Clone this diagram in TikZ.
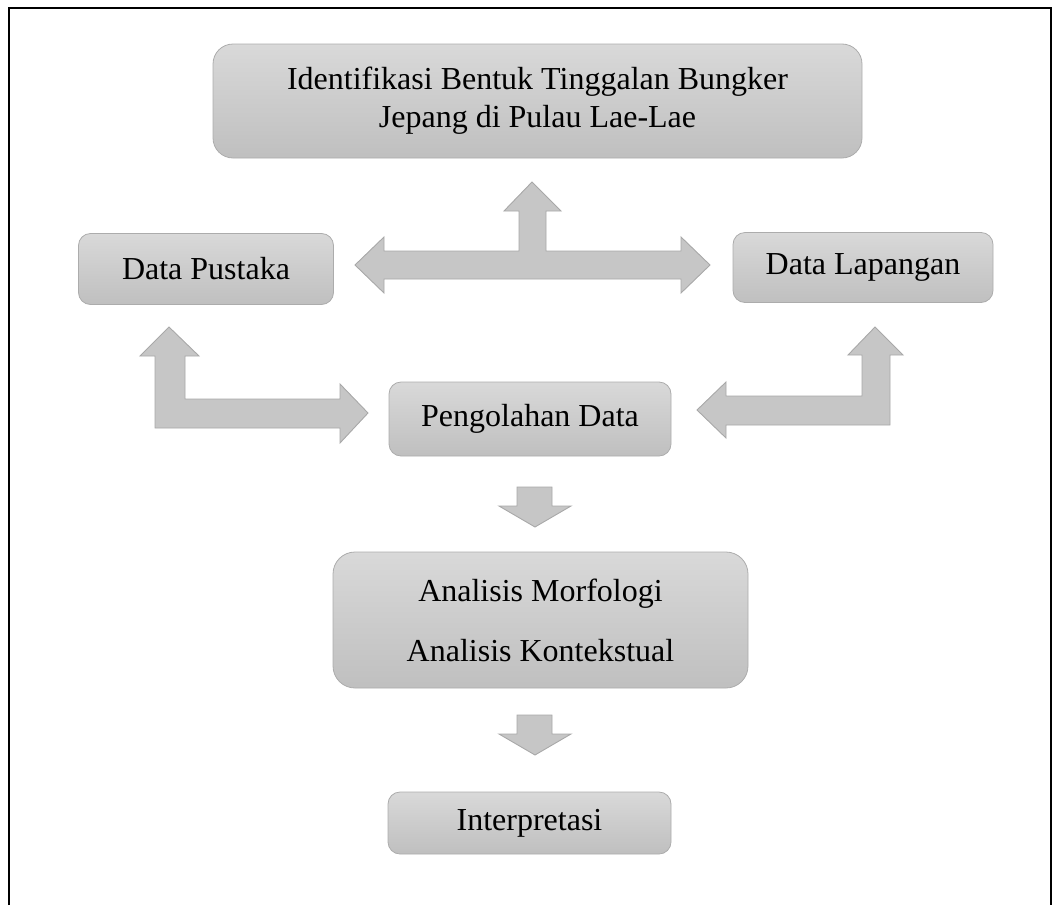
\documentclass[tikz,border=0pt]{standalone}
\usepackage{fontspec}
\setmainfont{Liberation Serif}
\tikzset{
  box/.style={draw=gray!65, line width=0.8pt, top color=gray!30, bottom color=gray!50,
    align=center, inner sep=0pt, font=\fontsize{32}{38}\selectfont},
  blockarrow/.style={fill=gray!45, draw=gray!68, line width=0.9pt, line join=miter}
}
\begin{document}
\begin{tikzpicture}[x=1pt,y=-1pt]
\useasboundingbox (0,0) rectangle (1054,905);
\draw[line width=2.6pt] (9,905) -- (9,8) -- (1051,8) -- (1051,905);
% boxes
\node[box, rounded corners=20pt, minimum width=649pt, minimum height=114pt] (ident) at (537.5,101) {Identifikasi Bentuk Tinggalan Bungker\\Jepang di Pulau Lae-Lae};
\node[box, rounded corners=12pt, minimum width=255pt, minimum height=71pt] (pustaka) at (206,269) {Data Pustaka};
\node[box, rounded corners=12pt, minimum width=260pt, minimum height=70pt] (lapangan) at (863,267.5) {Data Lapangan};
\node[box, rounded corners=12pt, minimum width=282pt, minimum height=74pt] (olah) at (530,419) {Pengolahan Data};
\node[box, rounded corners=22pt, minimum width=415pt, minimum height=136pt, font=\fontsize{32}{60}\selectfont] (analisis) at (540.5,620) {Analisis Morfologi\\Analisis Kontekstual};
\node[box, rounded corners=12pt, minimum width=283pt, minimum height=62pt] (interp) at (529.5,823) {Interpretasi};
% block arrows
\draw[blockarrow] (355,265) -- (384,237) -- (384,251) -- (519,251) -- (519,211) -- (504,211) -- (532,182)
  -- (561,211) -- (546,211) -- (546,251) -- (681,251) -- (681,237) -- (710,265) -- (681,293)
  -- (681,279) -- (384,279) -- (384,293) -- cycle;
\draw[blockarrow] (169,327) -- (199,356) -- (185,356) -- (185,399) -- (340,399) -- (340,384) -- (368,413)
  -- (340,443) -- (340,428) -- (155,428) -- (155,356) -- (140,356) -- cycle;
\draw[blockarrow] (875,327) -- (903,355) -- (890,355) -- (890,425) -- (726,425) -- (726,438) -- (697,410)
  -- (726,382) -- (726,396) -- (862,396) -- (862,355) -- (848,355) -- cycle;
\foreach \y in {487,715}
  \draw[blockarrow] (517,\y) -- (552,\y) -- (552,\y+19) -- (571,\y+19) -- (535,\y+40) -- (499,\y+19) -- (517,\y+19) -- cycle;
\end{tikzpicture}
\end{document}
